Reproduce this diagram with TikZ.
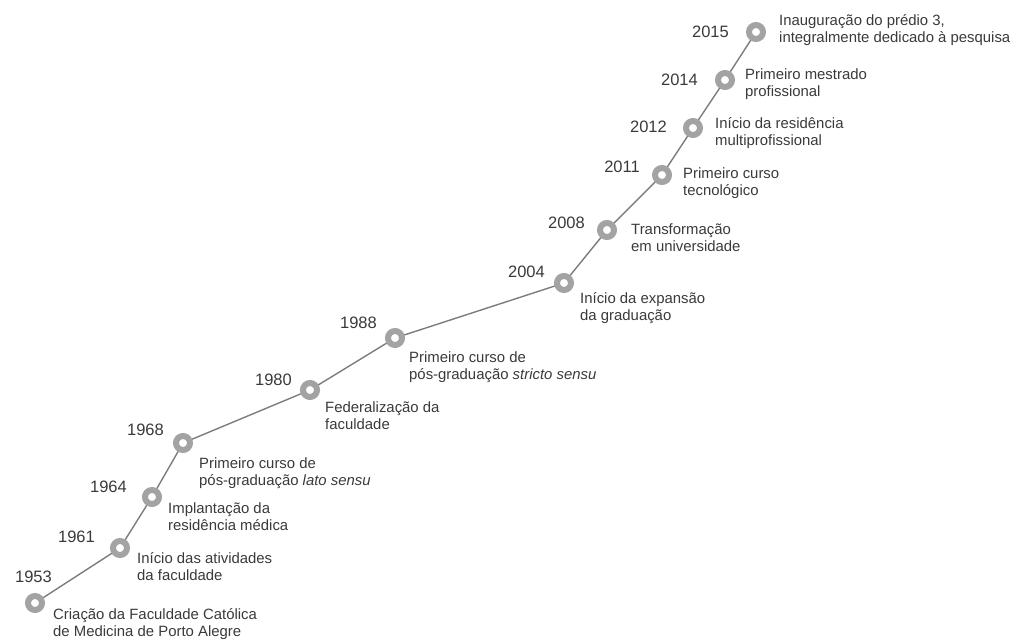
\documentclass[tikz,border=0pt]{standalone}
\usepackage{fontspec}
\setmainfont{Liberation Sans}
\definecolor{ringgray}{HTML}{A3A3A3}
\definecolor{linegray}{HTML}{7C7C7C}
\definecolor{txt}{HTML}{3A3A3A}
\begin{document}
\begin{tikzpicture}[x=1pt,y=-1pt,
  ev/.style={circle,draw=ringgray,line width=6pt,fill=white,minimum size=14pt,inner sep=0pt},
  link/.style={draw=linegray,line width=1.4pt},
  yr/.style={anchor=base east,inner sep=0pt,text=txt,font=\fontsize{16.5}{18}\selectfont},
  lb/.style={anchor=base west,inner sep=0pt,text=txt,align=left,font=\fontsize{14.9}{17}\selectfont}]
\useasboundingbox (0,0) rectangle (1015,640);
\coordinate (p1953) at (35,603);
\coordinate (p1961) at (120,548);
\coordinate (p1964) at (152,497);
\coordinate (p1968) at (183,443);
\coordinate (p1980) at (310,390);
\coordinate (p1988) at (395,338);
\coordinate (p2004) at (564,283);
\coordinate (p2008) at (607,230);
\coordinate (p2011) at (662,175);
\coordinate (p2012) at (693,128);
\coordinate (p2014) at (725,80);
\coordinate (p2015) at (756,32);
\draw[link] (p1953) -- (p1961) -- (p1964) -- (p1968) -- (p1980) -- (p1988) -- (p2004) -- (p2008) -- (p2011) -- (p2012) -- (p2014) -- (p2015);
\foreach \y in {1953,1961,1964,1968,1980,1988,2004,2008,2011,2012,2014,2015}
  \node[ev] (c\y) at (p\y) {};
\node[yr] (y1953) at (52,582) {1953};
\node[yr] (y1961) at (95,542) {1961};
\node[yr] (y1964) at (127,492) {1964};
\node[yr] (y1968) at (164,435) {1968};
\node[yr] (y1980) at (292,385) {1980};
\node[yr] (y1988) at (377,328) {1988};
\node[yr] (y2004) at (545,277) {2004};
\node[yr] (y2008) at (585,228) {2008};
\node[yr] (y2011) at (640,172) {2011};
\node[yr] (y2012) at (667,132) {2012};
\node[yr] (y2014) at (698,85) {2014};
\node[yr] (y2015) at (729,37) {2015};
% anchor base = baseline of the last line
\node[lb] (l1953) at (53,636) {Criação da Faculdade Católica\\de Medicina de Porto Alegre};
\node[lb] (l1961) at (137,580) {Início das atividades\\da faculdade};
\node[lb] (l1964) at (168,530) {Implantação da\\residência médica};
\node[lb] (l1968) at (199,485) {Primeiro curso de\\pós-graduação \textit{lato sensu}};
\node[lb] (l1980) at (325,429) {Federalização da\\faculdade};
\node[lb] (l1988) at (409,379) {Primeiro curso de\\pós-graduação \textit{stricto sensu}};
\node[lb] (l2004) at (580,320) {Início da expansão\\da graduação};
\node[lb] (l2008) at (631,251) {Transformação\\em universidade};
\node[lb] (l2011) at (683,195) {Primeiro curso\\tecnológico};
\node[lb] (l2012) at (715,145) {Início da residência\\multiprofissional};
\node[lb] (l2014) at (745,96) {Primeiro mestrado\\profissional};
\node[lb] (l2015) at (779,42) {Inauguração do prédio 3,\\integralmente dedicado à pesquisa};
\end{tikzpicture}
\end{document}
